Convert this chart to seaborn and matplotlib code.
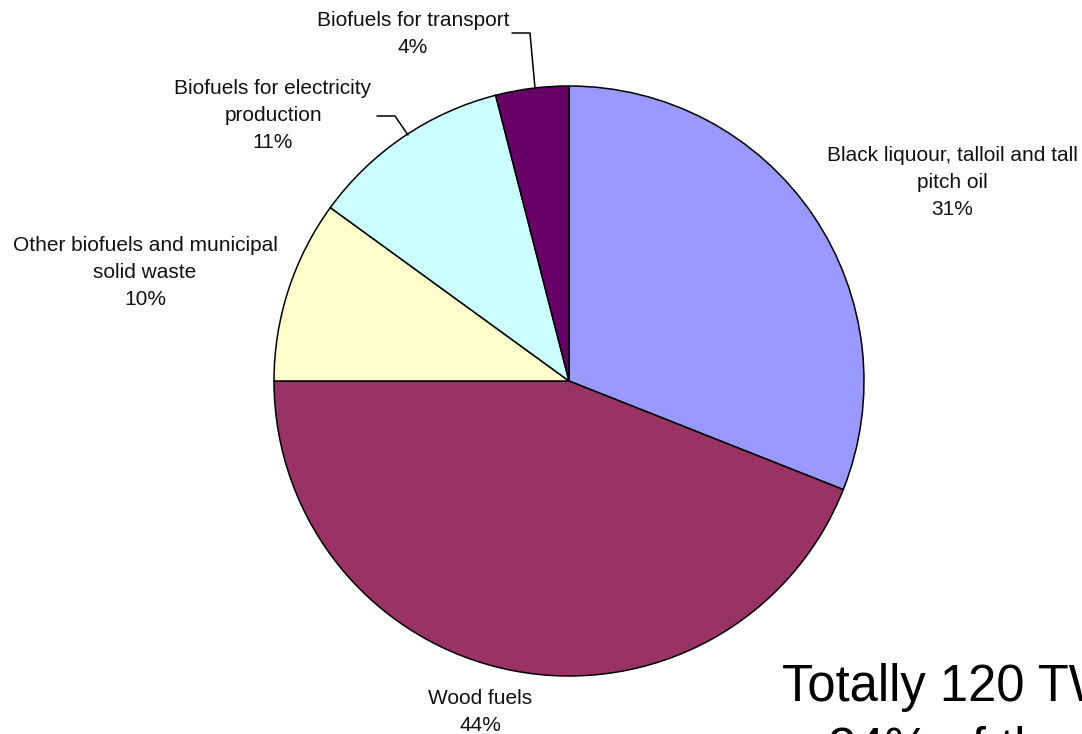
import matplotlib
matplotlib.use("Agg")
import matplotlib.pyplot as plt
import seaborn as sns

# data
sources = [
    "Black liquour, talloil and tall\npitch oil",
    "Wood fuels",
    "Other biofuels and municipal\nsolid waste",
    "Biofuels for electricity\nproduction",
    "Biofuels for transport",
]
shares = [31, 44, 10, 11, 4]
colors = ["#9999FF", "#993366", "#FFFFCC", "#CCFFFF", "#660066"]

sns.set_theme(style="white")
plt.rcParams["font.family"] = ["Liberation Sans", "DejaVu Sans"]

W, H = 1082, 734


def fy(y):
    # pixel rows (top down) -> data y
    return H - y


fig = plt.figure(figsize=(W / 100, H / 100), dpi=100)
ax = fig.add_axes([0, 0, 1, 1])

ax.pie(shares, colors=colors, startangle=90, counterclock=False,
       center=(569, fy(381)), radius=295, frame=True,
       wedgeprops=dict(edgecolor="black", linewidth=1.1))

# label positions (centre of text block, top line y) in pixels
label_pos = [(952, 146), (480, 689), (145, 236), (273, 79), (413, 11)]
for name, pct, (x, y) in zip(sources, shares, label_pos):
    ax.text(x, fy(y), f"{name}\n{pct}%", ha="center", va="top",
            fontsize=15, linespacing=1.52, color="#111111")

# leader lines
leaders = [
    ([512, 530, 535], [33, 33, 88]),
    ([377, 395, 408], [116, 116, 135]),
]
for xs, ys in leaders:
    ax.plot(xs, [fy(v) for v in ys], color="black", linewidth=1.1)

# big annotation, clipped at the figure edge like the original slide
ax.text(782, fy(701), "Totally 120 TWh", fontsize=36.5, ha="left",
        va="baseline", color="black")
ax.text(828, fy(763), "24% of the total", fontsize=36.5, ha="left",
        va="baseline", color="black")

ax.set_xlim(0, W)
ax.set_ylim(0, H)
ax.set_aspect("equal")
ax.axis("off")

fig.savefig("out.png", dpi=100, facecolor="white")
